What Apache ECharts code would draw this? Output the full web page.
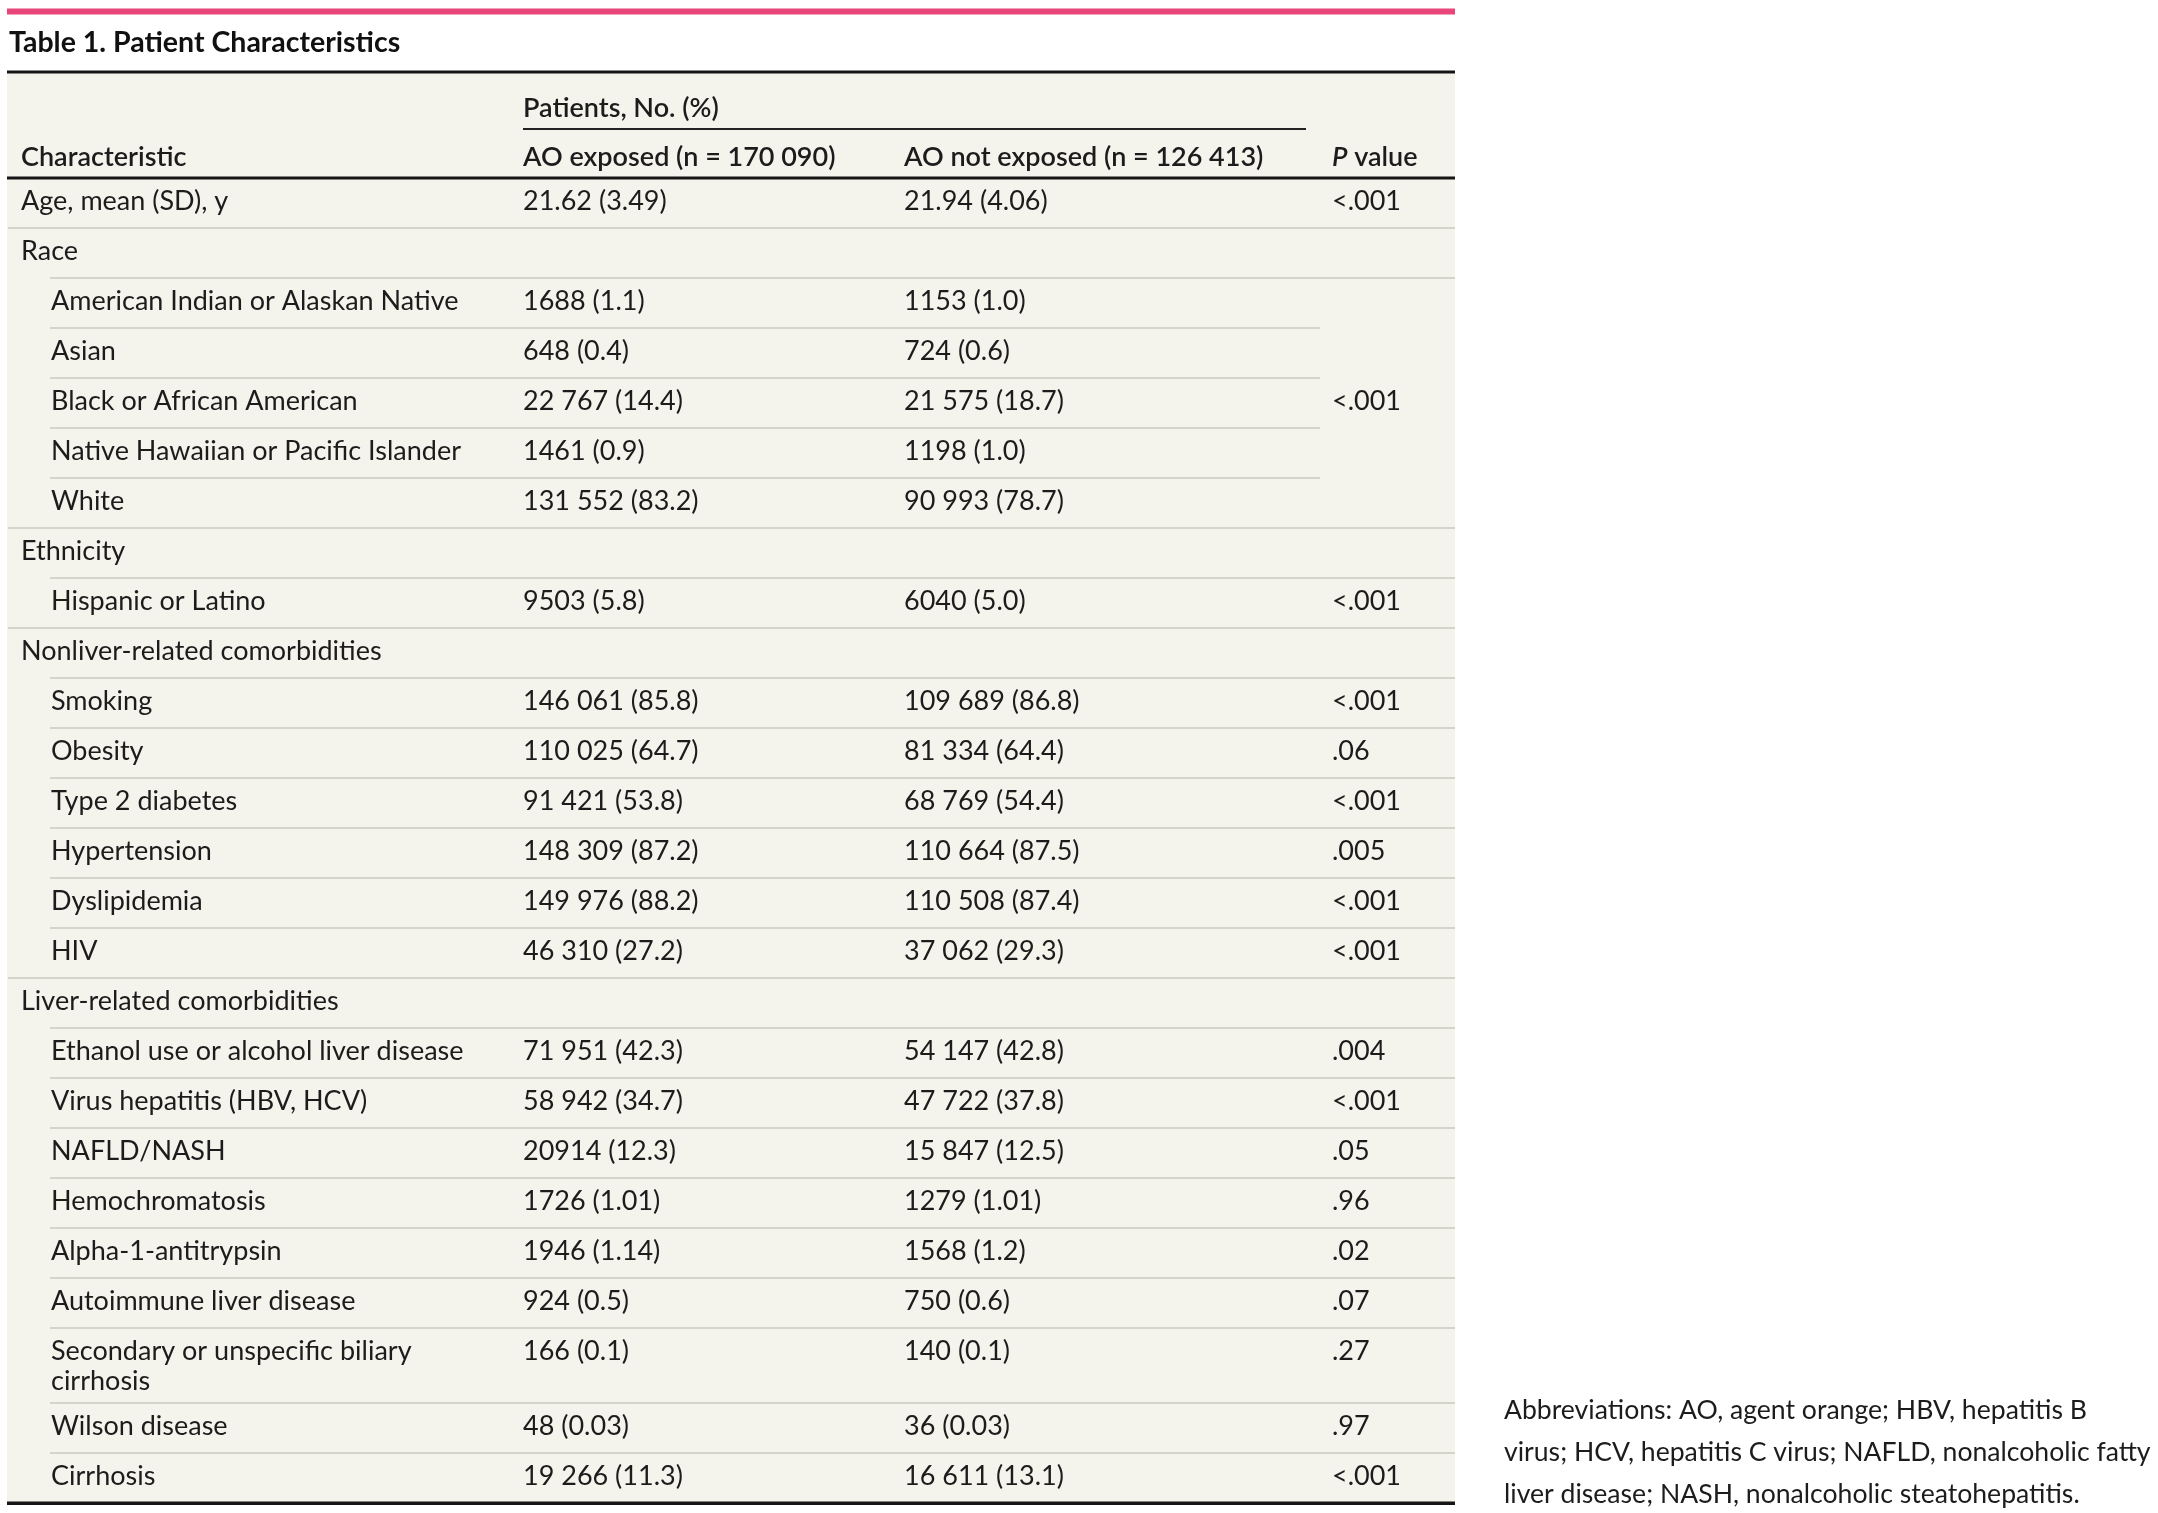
<!DOCTYPE html>
<html><head><meta charset="utf-8">
<script src="https://cdn.jsdelivr.net/npm/echarts@6/dist/echarts.min.js"></script>
<style>html,body{margin:0;padding:0;background:#fff}#c{width:2158px;height:1513px}</style>
</head><body><div id="c"></div>
<script>
const T = ' ';
const tableTitle = 'Table 1. Patient Characteristics';
const headerGroup = 'Patients, No. (%)';
const columnHeaders = ['Characteristic', 'AO exposed (n = 170' + T + '090)', 'AO not exposed (n = 126' + T + '413)', '{i|P} value'];
const characteristics = [
  'Age, mean (SD), y', 'Race', 'American Indian or Alaskan Native', 'Asian', 'Black or African American',
  'Native Hawaiian or Pacific Islander', 'White', 'Ethnicity', 'Hispanic or Latino', 'Nonliver-related comorbidities',
  'Smoking', 'Obesity', 'Type 2 diabetes', 'Hypertension', 'Dyslipidemia', 'HIV', 'Liver-related comorbidities',
  'Ethanol use or alcohol liver disease', 'Virus hepatitis (HBV, HCV)', 'NAFLD/NASH', 'Hemochromatosis',
  'Alpha-1-antitrypsin', 'Autoimmune liver disease', 'Secondary or unspecific biliary\ncirrhosis', 'Wilson disease', 'Cirrhosis'
];
const indentLevel = [0,0,1,1,1,1,1,0,1,0,1,1,1,1,1,1,0,1,1,1,1,1,1,1,1,1];
const aoExposed = [
  '21.62 (3.49)', '', '1688 (1.1)', '648 (0.4)', '22' + T + '767 (14.4)', '1461 (0.9)', '131' + T + '552 (83.2)', '',
  '9503 (5.8)', '', '146' + T + '061 (85.8)', '110' + T + '025 (64.7)', '91' + T + '421 (53.8)', '148' + T + '309 (87.2)',
  '149' + T + '976 (88.2)', '46' + T + '310 (27.2)', '', '71' + T + '951 (42.3)', '58' + T + '942 (34.7)', '20914 (12.3)',
  '1726 (1.01)', '1946 (1.14)', '924 (0.5)', '166 (0.1)', '48 (0.03)', '19' + T + '266 (11.3)'
];
const aoNotExposed = [
  '21.94 (4.06)', '', '1153 (1.0)', '724 (0.6)', '21' + T + '575 (18.7)', '1198 (1.0)', '90' + T + '993 (78.7)', '',
  '6040 (5.0)', '', '109' + T + '689 (86.8)', '81' + T + '334 (64.4)', '68' + T + '769 (54.4)', '110' + T + '664 (87.5)',
  '110' + T + '508 (87.4)', '37' + T + '062 (29.3)', '', '54' + T + '147 (42.8)', '47' + T + '722 (37.8)', '15' + T + '847 (12.5)',
  '1279 (1.01)', '1568 (1.2)', '750 (0.6)', '140 (0.1)', '36 (0.03)', '16' + T + '611 (13.1)'
];
const pValues = [
  '<.001', null, '<.001', null, null, null, null, null, '<.001', null, '<.001', '.06', '<.001', '.005', '<.001', '<.001',
  null, '.004', '<.001', '.05', '.96', '.02', '.07', '.27', '.97', '<.001'
];
const pValueRowSpan = [1,1,5,0,0,0,0,1,1,1,1,1,1,1,1,1,1,1,1,1,1,1,1,1,1,1];
const footnote = 'Abbreviations: AO, agent orange; HBV, hepatitis B\nvirus; HCV, hepatitis C virus; NAFLD, nonalcoholic fatty\nliver disease; NASH, nonalcoholic steatohepatitis.';

// ---- layout / style ----
const FONT = 'Lato';
const FS = 27;
const TXT = '#1c1c1c';
const BG = '#f4f3ec';
const SEP = '#d5d4cb';
const TL = 7, TR = 1455;
const TABLE_W = TR - TL;
const COL = { label: 14, indent: 44, exp: 516, notExp: 897, p: 1325 };
const RACE_SEP_END = 1313;
const TEXT_SHIFT = -17;

const rows = [];
let acc = 0;
characteristics.forEach((c, i) => {
  const h = c.indexOf('\n') >= 0 ? 1.5 : 1;
  rows.push([i, acc, h]);
  acc += h;
});
const totalUnits = acc;

function inPSpan(i) { return pValueRowSpan[i] === 0; }

const chart = echarts.init(document.getElementById('c'), null, { renderer: 'canvas' });

function txt(x, y, text) {
  return {
    type: 'text', x: x, y: y,
    style: { text: text, fontFamily: FONT, fontSize: FS, fill: TXT, verticalAlign: 'top', lineHeight: 30 }
  };
}

function renderItem(params, api) {
  const i = api.value(0), top = api.value(1);
  const children = [];
  const yTop = api.coord([0, top])[1];
  const yc = api.coord([0, top + 0.5])[1];
  if (i > 0) {
    const x1 = api.coord([indentLevel[i] ? COL.indent - 1 : 1, 0])[0];
    const x2 = inPSpan(i) ? api.coord([RACE_SEP_END, 0])[0] : api.coord([TABLE_W, 0])[0];
    children.push({ type: 'line', shape: { x1: x1, y1: yTop, x2: x2, y2: yTop }, style: { stroke: SEP, lineWidth: 2 } });
  }
  const lx = api.coord([indentLevel[i] ? COL.indent : COL.label, 0])[0];
  children.push(txt(lx, yc + TEXT_SHIFT, characteristics[i]));
  if (aoExposed[i]) children.push(txt(api.coord([COL.exp, 0])[0], yc + TEXT_SHIFT, aoExposed[i]));
  if (aoNotExposed[i]) children.push(txt(api.coord([COL.notExp, 0])[0], yc + TEXT_SHIFT, aoNotExposed[i]));
  if (pValues[i]) {
    const span = pValueRowSpan[i];
    const pc = span > 1 ? api.coord([0, top + span / 2])[1] : yc;
    children.push(txt(api.coord([COL.p, 0])[0], pc + TEXT_SHIFT, pValues[i]));
  }
  return { type: 'group', children: children };
}

const hdr = (x, y, text, extra) => ({ type: 'text', z: 10, x: x, y: y,
  style: Object.assign({ text: text, fontFamily: FONT, fontSize: FS, fontWeight: 600, fill: TXT, verticalAlign: 'middle' }, extra || {}) });

const option = {
  animation: false,
  grid: { left: TL, width: TABLE_W, top: 178, height: 1325, containLabel: false },
  xAxis: { type: 'value', min: 0, max: TABLE_W, show: false },
  yAxis: { type: 'value', min: 0, max: totalUnits, inverse: true, show: false },
  graphic: [
    { type: 'rect', z: -10, shape: { x: TL, y: 72, width: TABLE_W, height: 1503 - 72 }, style: { fill: BG } },
    { type: 'rect', z: 10, shape: { x: TL, y: 8.5, width: TABLE_W, height: 6 }, style: { fill: '#e8467b' } },
    { type: 'text', z: 10, x: 9, y: 43, style: { text: tableTitle, fontFamily: FONT, fontSize: 28.5, fontWeight: 'bold', fill: '#111', verticalAlign: 'middle' } },
    { type: 'rect', z: 10, shape: { x: TL, y: 70.5, width: TABLE_W, height: 3 }, style: { fill: '#151515' } },
    hdr(523, 108, headerGroup),
    { type: 'rect', z: 10, shape: { x: 523, y: 128, width: 1306 - 523, height: 2 }, style: { fill: '#222' } },
    hdr(21, 157, columnHeaders[0]),
    hdr(523, 157, columnHeaders[1]),
    hdr(904, 157, columnHeaders[2]),
    hdr(1332, 157, columnHeaders[3], { rich: { i: { fontFamily: FONT, fontSize: FS, fontWeight: 600, fontStyle: 'italic', fill: TXT } } }),
    { type: 'rect', z: 10, shape: { x: TL, y: 176.5, width: TABLE_W, height: 3 }, style: { fill: '#151515' } },
    { type: 'rect', z: 10, shape: { x: TL, y: 1501.5, width: TABLE_W, height: 3.5 }, style: { fill: '#151515' } },
    { type: 'text', z: 10, x: 1504, y: 1389, style: { text: footnote, fontFamily: FONT, fontSize: 26.6, lineHeight: 42, fill: TXT, verticalAlign: 'top' } }
  ],
  series: [{
    type: 'custom',
    renderItem: renderItem,
    clip: false,
    encode: { x: 0, y: 1 },
    data: rows,
    silent: true
  }]
};
chart.setOption(option);
</script>
</body></html>
